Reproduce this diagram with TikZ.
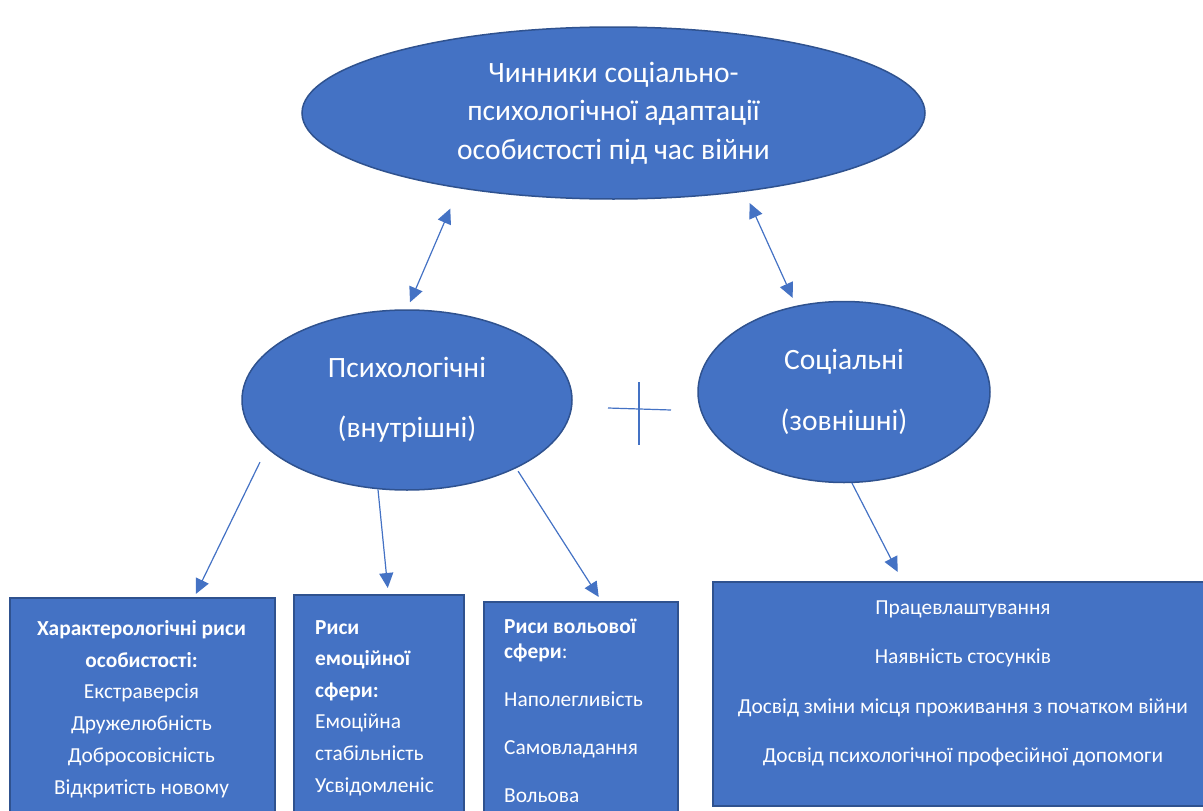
\documentclass[tikz,border=0pt]{standalone}
\usepackage{fontspec}
\setmainfont{Carlito}
\usetikzlibrary{shapes.geometric,arrows.meta}
\definecolor{officeblue}{HTML}{4472C4}
\definecolor{darkblue}{HTML}{2F528F}

\begin{document}
\begin{tikzpicture}[x=1pt,y=-1pt,
  oval/.style={draw=darkblue,line width=1.5pt,fill=officeblue,ellipse,inner sep=0pt,text=white,align=center},
  factor/.style={draw=darkblue,line width=1.5pt,fill=officeblue,rectangle,inner sep=0pt,anchor=north west},
  txt/.style={text=white,inner sep=0pt},
  arr/.style={-{Triangle[length=15pt,width=14pt]},officeblue,line width=1.2pt},
  biarr/.style={{Triangle[length=15pt,width=14pt]}-{Triangle[length=15pt,width=14pt]},officeblue,line width=1.2pt}]
\useasboundingbox (0,0) rectangle (1203,811);
\clip (0,0) rectangle (1203,811);

% ovals
\node[oval,minimum width=623pt,minimum height=172pt,font=\fontsize{29.5}{38.5}\selectfont] (top) at (613.5,113)
  {Чинники соціально-\\психологічної адаптації\\особистості під час війни};
\node[oval,minimum width=330pt,minimum height=180pt,font=\fontsize{29.5}{60}\selectfont] (psy) at (407,400)
  {Психологічні\\(внутрішні)};
\node[oval,minimum width=292pt,minimum height=181pt,font=\fontsize{29.5}{61}\selectfont] (soc) at (844,392)
  {Соціальні\\(зовнішні)};

% boxes
\node[factor,minimum width=265pt,minimum height=253pt] (chr) at (9,597) {};
\node[factor,minimum width=170pt,minimum height=256pt] (emo) at (293,594) {};
\node[factor,minimum width=194pt,minimum height=249pt] (vol) at (483,601) {};
\node[factor,minimum width=502pt,minimum height=224pt] (ext) at (712,581) {};

\node[txt,align=center,anchor=north,font=\fontsize{21.4}{31.8}\selectfont] (chrtxt) at (141.5,620)
  {\textbf{Характерологічні риси}\\\textbf{особистості:}\\Екстраверсія\\Дружелюбність\\Добросовісність\\Відкритість новому};
\node[txt,align=left,anchor=north west,font=\fontsize{21.4}{31.6}\selectfont] (emotxt) at (315,620)
  {\textbf{Риси}\\\textbf{емоційної}\\\textbf{сфери:}\\Емоційна\\стабільність\\Усвідомленіс};
\node[txt,align=left,anchor=north west,font=\fontsize{21.4}{25}\selectfont] (voltxt) at (504,619)
  {\textbf{Риси вольової}\\\textbf{сфери}:\\[23pt]Наполегливість\\[23pt]Самовладання\\[23pt]Вольова};
\node[txt,align=center,anchor=north,font=\fontsize{21.4}{49.3}\selectfont] (exttxt) at (963,600.5)
  {Працевлаштування\\Наявність стосунків\\Досвід зміни місця проживання з початком війни\\Досвід психологічної професійної допомоги};

% arrows
\draw[biarr,shorten <=22pt,shorten >=7.6pt] (top.206.1) -- (psy.90.7);
\draw[biarr,shorten <=12.4pt,shorten >=8.6pt] (top.329.7) -- (soc.119.2);
\draw[arr,shorten <=15.4pt] (psy.199.7) -- ([xshift=53.5pt,yshift=3pt]chr.north);
\draw[arr] (psy.252.7) -- ([xshift=9pt,yshift=6pt]emo.north);
\draw[arr,shorten <=3.4pt] (psy.328.7) -- ([xshift=18pt,yshift=4pt]vol.north);
\draw[arr] (soc.275.7) -- ([xshift=-66pt,yshift=9pt]ext.north);

% plus sign
\coordinate (plus) at (639,409);
\draw[officeblue,line width=1.2pt] ([xshift=-31pt,yshift=1pt]plus) -- ([xshift=32pt,yshift=-1pt]plus);
\draw[officeblue,line width=1.2pt] ([yshift=27pt]plus) -- ([yshift=-36pt]plus);
\end{tikzpicture}
\end{document}
